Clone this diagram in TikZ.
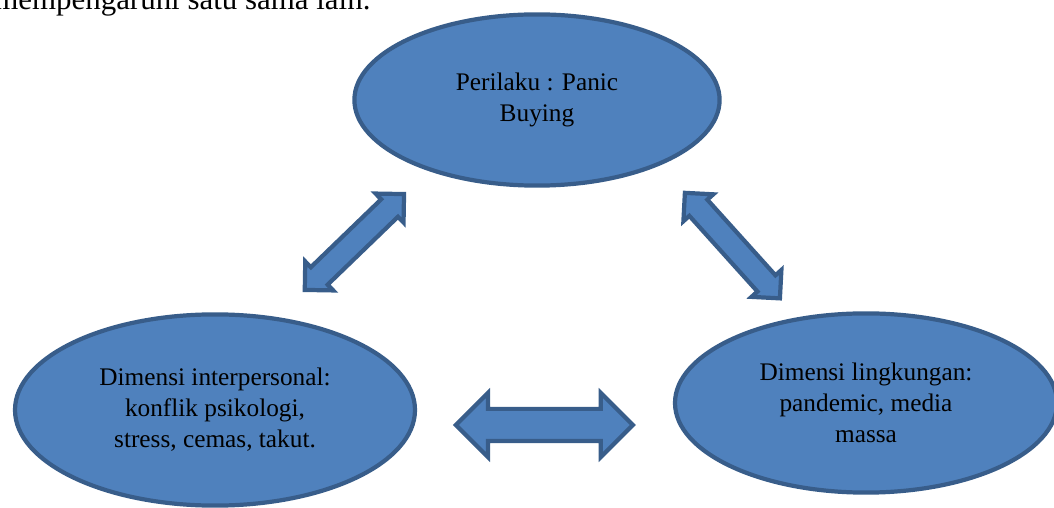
\documentclass[tikz,border=0pt]{standalone}
\usepackage{fontspec}
\setmainfont{Liberation Serif}
\usetikzlibrary{shapes.geometric,shapes.arrows}
\definecolor{dimfill}{HTML}{4F81BD}
\definecolor{dimline}{HTML}{385D8A}
\begin{document}
\begin{tikzpicture}[
    dim/.style={ellipse, draw=dimline, fill=dimfill, line width=3pt, align=center, inner sep=0pt, font=\fontsize{18}{22}\selectfont},
    link/.style={double arrow, draw=dimline, fill=dimfill, line width=3pt, inner xsep=0pt, double arrow tip angle=90}
  ]
  \useasboundingbox (0,0) rectangle (26.35,12.7);
  \clip (0,0) rectangle (26.35,12.7);

  % sentence above, cut off by the page
  \node[anchor=base west, inner sep=0pt, font=\fontsize{22}{26}\selectfont] (cap) at (-0.15,12.45) {mempengaruhi satu sama lain.};

  \node[dim, minimum width=9.13cm, minimum height=4.28cm] (beh) at (13.425,10.2) {Perilaku : Panic\\Buying};
  \node[dim, minimum width=10.0cm, minimum height=4.78cm] (inter) at (5.375,2.45) {Dimensi interpersonal:\\konflik psikologi,\\stress, cemas, takut.};
  \node[dim, minimum width=9.55cm, minimum height=4.48cm] (env) at (21.65,2.625) {Dimensi lingkungan:\\pandemic, media\\massa};

  % two-way influence
  \node[link, minimum height=3.45cm, inner ysep=0.25cm, double arrow head extend=0.2cm, rotate=44] (interbeh) at (8.86,6.65) {};
  \node[link, minimum height=3.55cm, inner ysep=0.25cm, double arrow head extend=0.2cm, rotate=-48] (behenv) at (18.31,6.56) {};
  \node[link, minimum height=4.425cm, inner ysep=0.35cm, double arrow head extend=0.4cm] (interenv) at (13.61,2.075) {};
\end{tikzpicture}
\end{document}
